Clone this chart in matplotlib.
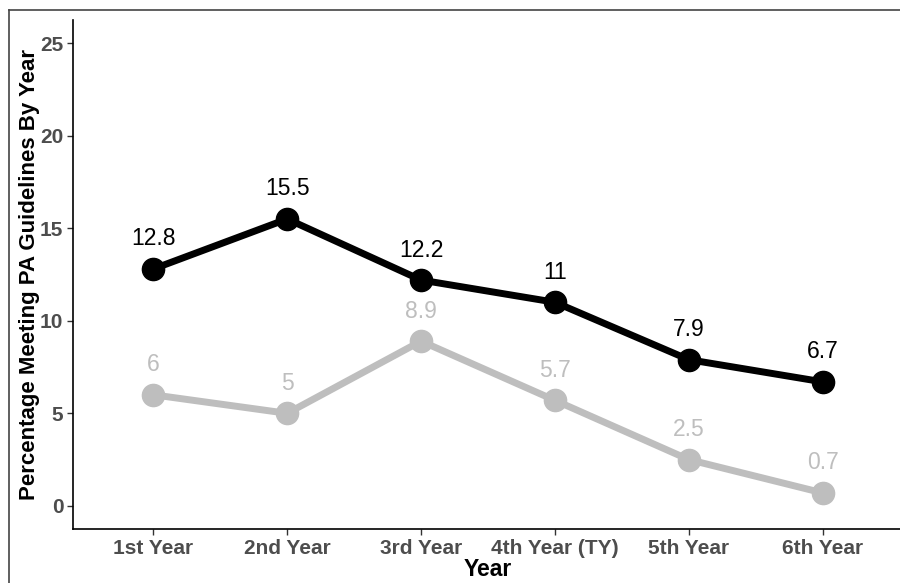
import numpy as np
import matplotlib.pyplot as plt
from matplotlib.lines import Line2D

years = ['1st Year', '2nd Year', '3rd Year', '4th Year (TY)', '5th Year', '6th Year']
black_vals = [12.8, 15.5, 12.2, 11, 7.9, 6.7]
grey_vals = [6, 5, 8.9, 5.7, 2.5, 0.7]
yticks = [0, 5, 10, 15, 20, 25]

plt.rcParams['font.family'] = ['Liberation Sans', 'DejaVu Sans']

fig = plt.figure(figsize=(9, 5.83), dpi=100)
ax = fig.add_axes([73 / 900, 54 / 583, 830 / 900, 509 / 583])

x = np.arange(len(years))
ax.plot(x, grey_vals, color='#bebebe', lw=5, marker='o', ms=16, zorder=2)
ax.plot(x, black_vals, color='black', lw=5, marker='o', ms=16, zorder=3)

for xi, v in zip(x, grey_vals):
    ax.annotate('%g' % v, (xi, v), xytext=(0, 30), textcoords='offset pixels',
                ha='center', va='center', fontsize=16.5, color='#bebebe')
for xi, v in zip(x, black_vals):
    ax.annotate('%g' % v, (xi, v), xytext=(0, 30), textcoords='offset pixels',
                ha='center', va='center', fontsize=16.5, color='black')

ax.set_xlim(-0.6, 5.6)
ax.set_ylim(-1.25, 26.25)
ax.set_xticks(x)
ax.set_xticklabels(years)
ax.set_yticks(yticks)
for lab in ax.get_xticklabels() + ax.get_yticklabels():
    lab.set_fontweight('bold')
    lab.set_color('#4d4d4d')
    lab.set_fontsize(15)
ax.tick_params(length=4, width=1, color='#333333', pad=3)
ax.spines['top'].set_visible(False)
ax.spines['right'].set_visible(False)
ax.spines['left'].set_linewidth(1.2)
ax.spines['bottom'].set_linewidth(1.2)
ax.set_xlabel('Year', fontsize=16.5, fontweight='bold', labelpad=0)
ax.set_ylabel('Percentage Meeting PA Guidelines By Year', fontsize=16,
              fontweight='bold', labelpad=0)

# frame of the screenshot
fig.add_artist(Line2D([9 / 900, 9 / 900], [0, 1 - 10 / 583], color='#444444', lw=1.2))
fig.add_artist(Line2D([9 / 900, 1], [1 - 10 / 583, 1 - 10 / 583], color='#444444', lw=1.2))

fig.savefig('out.png', dpi=100)
